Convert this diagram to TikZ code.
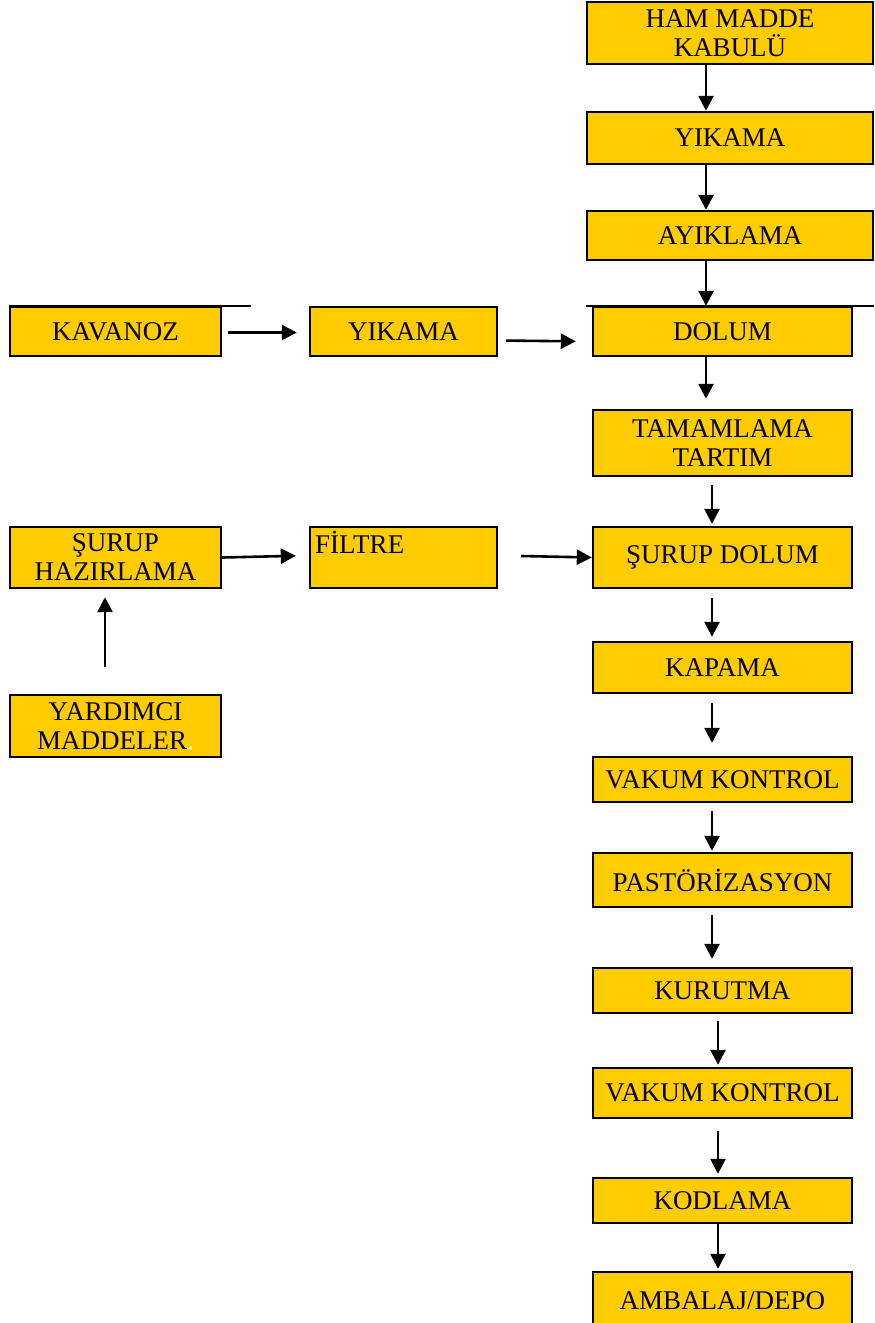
\documentclass[tikz,border=0pt]{standalone}
\usepackage{fontspec}
\setmainfont{Liberation Serif}
\usepackage{xcolor}
\usetikzlibrary{arrows.meta,positioning,calc}
\definecolor{boxyellow}{HTML}{FFCC00}

\begin{document}
\begin{tikzpicture}[
    x=1pt, y=-1pt,
    thick,
    box/.style={rectangle, draw, line width=2.4pt, fill=boxyellow, inner sep=0pt, align=center, font=\fontsize{27}{29}\selectfont},
    topbox/.style={box, minimum width=286pt},
    midbox/.style={box, minimum width=259pt},
    leftbox/.style={box, minimum width=211pt},
    arr/.style={-{Triangle[length=15pt,width=15pt]}, line width=2.6pt}
]
\useasboundingbox (0,0) rectangle (875,1323);

% Main column
\node [topbox, minimum height=62pt] (ham) at (730,33) {HAM MADDE\\KABULÜ};
\node [topbox, minimum height=52pt] (yikama) at (730,138) {YIKAMA};
\node [topbox, minimum height=49pt] (ayiklama) at (730,235.5) {AYIKLAMA};
\node [midbox, minimum height=49pt] (dolum) at (722.5,331.5) {DOLUM};
\node [midbox, minimum height=66pt] (tamamlama) at (722.5,443) {TAMAMLAMA\\TARTIM};
\node [midbox, minimum height=61pt] (surupdolum) at (722.5,557.5) {ŞURUP DOLUM};
\node [midbox, minimum height=51pt] (kapama) at (722.5,667.5) {KAPAMA};
\node [midbox, minimum height=45pt] (vakum) at (722.5,779.5) {VAKUM KONTROL};
\node [midbox, minimum height=54pt] (pastorizasyon) at (722.5,880) {PASTÖRİZASYON};
\node [midbox, minimum height=45pt] (kurutma) at (722.5,990.5) {KURUTMA};
\node [midbox, minimum height=50pt] (vakumiki) at (722.5,1093) {VAKUM KONTROL};
\node [midbox, minimum height=45pt] (kodlama) at (722.5,1200.5) {KODLAMA};
\node [midbox, minimum height=58pt] (ambalaj) at (722.5,1301) {AMBALAJ/DEPO};

% Jar line
\node [leftbox, minimum height=49pt] (kavanoz) at (115.5,331.5) {KAVANOZ};
\node [box, minimum width=187pt, minimum height=49pt] (kavyikama) at (403.5,331.5) {YIKAMA};

% Syrup line
\node [leftbox, minimum height=61pt] (surup) at (115.5,557.5) {ŞURUP\\HAZIRLAMA};
\node [box, minimum width=187pt, minimum height=61pt,
       label={[anchor=north west, inner sep=0pt, font=\fontsize{27}{29}\selectfont, xshift=6pt, yshift=-5pt]north west:FİLTRE}] (filtre) at (403.5,557.5) {};
\node [leftbox, minimum height=62pt] (yardimci) at (115.5,726) {YARDIMCI\\MADDELER{\color{white}.}};

% Stray top lines
\draw [line width=2pt] (kavanoz.north west) -- ++(242,0) coordinate (kavend);
\draw [line width=2pt] ([xshift=-6pt]dolum.north west) -- ++(288,0) coordinate (dolend);

% Connections
\draw [arr] ([xshift=-24pt]ham.south) -- ([xshift=-24pt]yikama.north);
\draw [arr] ([xshift=-24pt]yikama.south) -- ([xshift=-24pt]ayiklama.north);
\draw [arr] ([xshift=-24pt]ayiklama.south) -- ([xshift=-16.5pt]dolum.north);
\draw [arr, shorten >=10pt] ([xshift=-16.5pt]dolum.south) -- ([xshift=-16.5pt]tamamlama.north);
\draw [arr, shorten <=8pt, shorten >=2pt] ([xshift=-10.5pt]tamamlama.south) -- ([xshift=-10.5pt]surupdolum.north);
\draw [arr, shorten <=9pt, shorten >=4pt] ([xshift=-10.5pt]surupdolum.south) -- ([xshift=-10.5pt]kapama.north);
\draw [arr, shorten <=9pt, shorten >=13pt] ([xshift=-10.5pt]kapama.south) -- ([xshift=-10.5pt]vakum.north);
\draw [arr, shorten <=8pt, shorten >=1pt] ([xshift=-10.5pt]vakum.south) -- ([xshift=-10.5pt]pastorizasyon.north);
\draw [arr, shorten <=7pt, shorten >=8pt] ([xshift=-10.5pt]pastorizasyon.south) -- ([xshift=-10.5pt]kurutma.north);
\draw [arr, shorten <=7pt, shorten >=2pt] ([xshift=-4.5pt]kurutma.south) -- ([xshift=-4.5pt]vakumiki.north);
\draw [arr, shorten <=12pt, shorten >=3pt] ([xshift=-4.5pt]vakumiki.south) -- ([xshift=-4.5pt]kodlama.north);
\draw [arr, shorten >=2pt] ([xshift=-4.5pt]kodlama.south) -- ([xshift=-4.5pt]ambalaj.north);

\draw [arr, shorten <=6pt, shorten >=12pt] ([yshift=-1pt]kavanoz.east) -- ([yshift=-1pt]kavyikama.west);
\draw [arr, shorten <=8pt, shorten >=16pt] ([yshift=-9pt]kavyikama.east) -- ([yshift=-10pt]dolum.west);
\draw [arr, shorten >=13pt] (surup.east) -- ([yshift=2pt]filtre.west);
\draw [arr, shorten <=23pt] ([yshift=2pt]filtre.east) -- (surupdolum.west);
\draw [arr, shorten <=27pt, shorten >=8pt] ([xshift=-10.5pt]yardimci.north) -- ([xshift=-10.5pt]surup.south);

\end{tikzpicture}
\end{document}
